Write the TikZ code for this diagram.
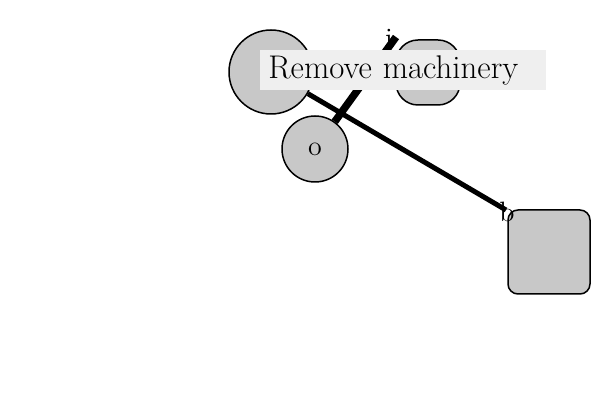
\documentclass[tikz,border=0pt]{standalone}
\usepackage{tikz}
\definecolor{shapegray}{RGB}{200, 200, 200}
\definecolor{bannergray}{RGB}{239, 239, 239}

\begin{document}
\begin{tikzpicture}[
  every node/.style={inner sep=0pt},
  blob/.style={circle, fill=shapegray, line width=0.75pt, draw=black},
  tile/.style={rectangle, fill=shapegray, line width=0.75pt, draw=black},
  tag/.style={font=\fontsize{14}{16}\selectfont},
  banner/.style={rectangle, fill=bannergray, text width=135pt, inner xsep=4pt, minimum height=20pt, align=left, font=\fontsize{16.4}{19}\selectfont}]
\useasboundingbox (0pt, 0pt) rectangle (300pt, -200pt);
\node (hub) [blob, minimum size=42pt] at (135.5pt, -36.0pt)  {};
\node (pad) [tile, rounded corners=11pt, minimum width=32pt, minimum height=32.5pt] at (214.0pt, -36.25pt)  {};
\node (o) [blob, minimum size=33pt, tag] at (157.5pt, -74.5pt)  {o};
\node (crate) [tile, rounded corners=5pt, minimum width=41pt, minimum height=42pt] at (274.5pt, -126.0pt)  {};
\coordinate (iend) at (198.0pt, -18.5pt);
\coordinate (bend) at (253.0pt, -105.0pt);
\draw [line width=2.5pt, color=black] (hub) to  (bend);
\draw [line width=3.75pt, color=black] (o) to  (iend);
\node (i) [tag] at (194.5pt, -19.0pt)  {i};
\node (b) [tag] at (253.5pt, -106.0pt)  {b};
\node (title) [banner, anchor=west] at (130.0pt, -35.0pt)  {Remove machinery};
\end{tikzpicture}
\end{document}
